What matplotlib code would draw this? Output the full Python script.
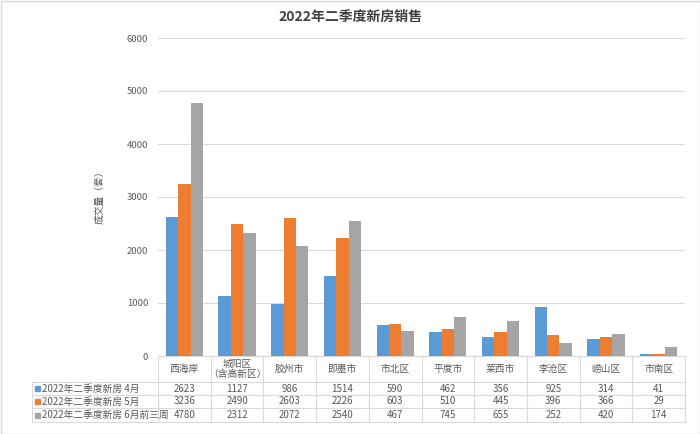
import matplotlib

matplotlib.use("Agg")
import matplotlib.pyplot as plt
import numpy as np
from matplotlib.lines import Line2D
from matplotlib.patches import Rectangle
from matplotlib.transforms import blended_transform_factory

plt.rcParams["font.family"] = ["Noto Sans CJK SC", "DejaVu Sans"]

title = "2022年二季度新房销售"
y_label = "成交量（套）"
categories = ["西海岸", "城阳区\n（含高新区）", "胶州市", "即墨市", "市北区",
              "平度市", "莱西市", "李沧区", "崂山区", "市南区"]
series_names = ["2022年二季度新房 4月", "2022年二季度新房 5月", "2022年二季度新房 6月前三周"]
april = [2623, 1127, 986, 1514, 590, 462, 356, 925, 314, 41]
may = [3236, 2490, 2603, 2226, 603, 510, 445, 396, 366, 29]
june = [4780, 2312, 2072, 2540, 467, 745, 655, 252, 420, 174]
y_ticks = [0, 1000, 2000, 3000, 4000, 5000, 6000]

series = [april, may, june]
colors = ["#5B9BD5", "#ED7D31", "#A5A5A5"]
grid_c = "#D9D9D9"
text_c = "#595959"

W, H = 700, 434
fig = plt.figure(figsize=(W / 100, H / 100), dpi=100)


def fy(py):
    # pixel row from top -> figure fraction
    return 1 - py / H


ax = fig.add_axes([158 / W, fy(356), (685 - 158) / W, (356 - 38) / H])
x = np.arange(len(categories))
bw = 0.235
for k, vals in enumerate(series):
    ax.bar(x + (k - 1) * bw, vals, width=bw, color=colors[k], zorder=3)

ax.set_xlim(-0.5, len(categories) - 0.5)
ax.set_ylim(0, 6000)
ax.set_yticks(y_ticks)
ax.set_yticklabels([str(t) for t in y_ticks], fontsize=6.8, color=text_c)
ax.tick_params(axis="y", length=0, pad=7)
ax.set_xticks([])
ax.grid(axis="y", color=grid_c, linewidth=0.8, zorder=0)
for s in ["top", "right", "left"]:
    ax.spines[s].set_visible(False)
ax.spines["bottom"].set_color(grid_c)
ax.spines["bottom"].set_linewidth(0.8)

fig.text(350 / W, fy(17), title, ha="center", va="center", fontsize=10,
         fontweight="bold", color="#404040")
fig.text(100 / W, fy(195), y_label, ha="center", va="center", rotation=90,
         fontsize=7, color=text_c)

# data table under the axis
tr = blended_transform_factory(ax.transData, fig.transFigure)
row_lines = [356, 382, 395, 408, 422]
for i in range(len(categories) + 1):
    fig.add_artist(Line2D([i - 0.5, i - 0.5], [fy(356), fy(422)], transform=tr,
                          color=grid_c, linewidth=0.8))
for py in row_lines[1:]:
    fig.add_artist(Line2D([32 / W, 685 / W], [fy(py), fy(py)],
                          transform=fig.transFigure, color=grid_c, linewidth=0.8))
fig.add_artist(Line2D([32 / W, 32 / W], [fy(382), fy(422)],
                      transform=fig.transFigure, color=grid_c, linewidth=0.8))

for i, cat in enumerate(categories):
    fig.text(i, fy(369), cat, transform=tr, ha="center", va="center",
             fontsize=7, color=text_c, linespacing=1.1)

for k, vals in enumerate(series):
    yc = fy((row_lines[k + 1] + row_lines[k + 2]) / 2)
    fig.add_artist(Rectangle((35 / W, yc - 2.5 / H), 5 / W, 5 / H,
                             transform=fig.transFigure, color=colors[k]))
    fig.text(42 / W, yc, series_names[k], ha="left", va="center",
             fontsize=7, color=text_c)
    for i, v in enumerate(vals):
        fig.text(i, yc, str(v), transform=tr, ha="center", va="center",
                 fontsize=7, color=text_c)

fig.add_artist(Rectangle((0.5 / W, 0.5 / H), (W - 1) / W, (H - 1) / H,
                         transform=fig.transFigure, fill=False,
                         edgecolor="#D9D9D9", linewidth=1))

fig.savefig("out.png", dpi=100)
